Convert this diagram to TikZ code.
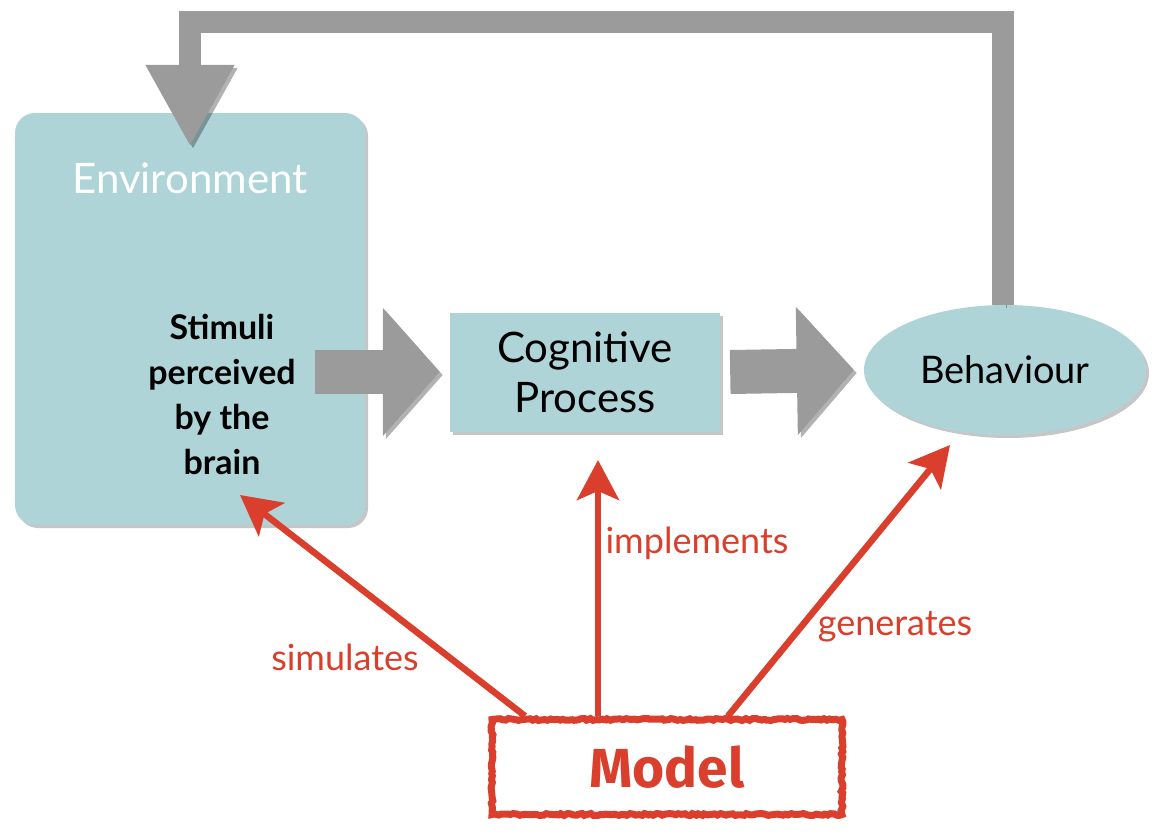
\documentclass[tikz,border=0pt]{standalone}
\usepackage{fontspec}
\setmainfont{Lato}
\newfontfamily\modelfont{Fira Sans}
\usetikzlibrary{arrows.meta,shapes.geometric,shadows,decorations.pathmorphing}
\definecolor{tealbox}{HTML}{AFD4D8}
\definecolor{blockgray}{HTML}{9B9B9B}
\definecolor{sketchred}{HTML}{DA3E2C}
\tikzset{
  box/.style={fill=tealbox, draw=none,
    drop shadow={shadow xshift=3pt, shadow yshift=-3pt, opacity=0.45}},
  flatshadow/.style={preaction={draw=black, opacity=0.3,
    transform canvas={shift={(3pt,-3pt)}}}},
  block/.style={flatshadow, draw=blockgray, line width=44pt,
    -{Triangle[length=57pt,width=125pt]}},
  feedback/.style={flatshadow, draw=blockgray, line width=22pt,
    -{Triangle[length=82pt,width=83pt]}},
  sketch/.style={draw=sketchred, line width=6.5pt,
    -{Stealth[length=40pt,width=42pt,inset=9pt]}},
  sketchlabel/.style={text=sketchred, font=\fontsize{36}{40}\selectfont}
}
\begin{document}
\begin{tikzpicture}[x=1pt, y=-1pt]
  \useasboundingbox (0,0) rectangle (1160,835);
  % boxes
  \node[box, rounded corners=20pt, minimum width=350pt, minimum height=412pt]
    (env) at (190,319) {};
  \node[text=white, font=\fontsize{42}{46}\selectfont] (envlabel) at (190,178) {Environment};
  \node[align=center, inner sep=0pt, font=\bfseries\fontsize{34}{45}\selectfont]
    (stim) at (222,394) {Stimuli\\perceived\\by the\\brain};
  \node[box, minimum width=270pt, minimum height=119pt, align=center,
    font=\fontsize{42}{50}\selectfont] (cog) at (585,372) {Cognitive\\Process};
  \node[box, ellipse, minimum width=282pt, minimum height=130pt,
    font=\fontsize{38}{42}\selectfont] (beh) at (1005,370) {Behaviour};
  \node[draw=sketchred, line width=7pt, minimum width=350pt, minimum height=95pt,
    decoration={random steps, segment length=3pt, amplitude=1pt}, decorate,
    text=sketchred, font=\modelfont\bfseries\fontsize{55}{58}\selectfont]
    (model) at (667,767) {Model};
  % gray flow
  \draw[block] ([xshift=125pt]env.center |- cog.west) -- ([xshift=-10pt]cog.west);
  \draw[block] ([xshift=10pt]cog.east) -- ([xshift=-10pt]beh.west);
  \coordinate (top) at (0,22);
  \draw[feedback] ([xshift=-2pt]beh.north) -- ([xshift=-2pt]beh.north |- top)
    -| ([yshift=-34pt]env.north);
  % model links
  \coordinate (simtip) at (240,495);
  \coordinate (imptip) at (598,460);
  \coordinate (gentip) at (950,445);
  \draw[sketch] ([xshift=-142pt]model.north) -- (simtip);
  \draw[sketch] ([xshift=-69pt]model.north) -- (imptip);
  \draw[sketch] ([xshift=61pt]model.north) -- (gentip);
  \node[sketchlabel] (simlabel) at (345,657) {simulates};
  \node[sketchlabel] (implabel) at (697,543) {implements};
  \node[sketchlabel] (genlabel) at (895,627) {generates};
\end{tikzpicture}
\end{document}
